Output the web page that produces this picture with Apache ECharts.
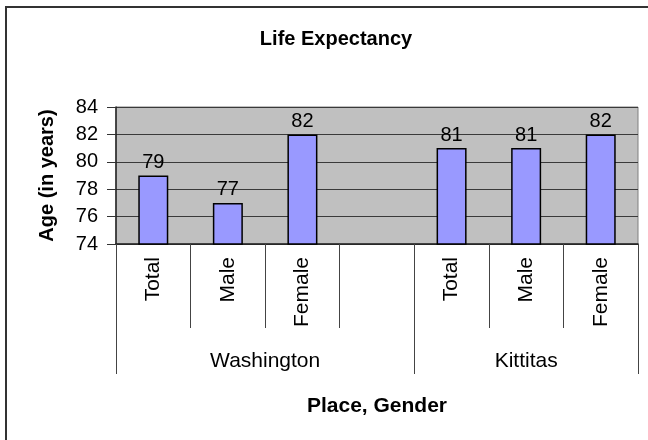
<!DOCTYPE html>
<html>
<head>
<meta charset="utf-8">
<script src="https://cdn.jsdelivr.net/npm/echarts@6/dist/echarts.min.js"></script>
<style>
  html, body { margin: 0; padding: 0; background: #fff; }
  #chart { width: 648px; height: 440px; }
</style>
</head>
<body>
<div id="chart"></div>
<script>
const categories = ['Total', 'Male', 'Female', '', 'Total', 'Male', 'Female']
const ages = [79, 77, 82, null, 81, 81, 82]
const groupNames = ['Washington', 'Kittitas']
const groupSpans = [4, 3]
const yTicks = { min: 74, max: 84, interval: 2 }

// group borders and centres on a 0..7 scale, same width as the category axis
const groupEdges = [0]
const groupCenters = []
groupSpans.forEach((s, i) => {
  groupCenters.push(groupEdges[i] + s / 2)
  groupEdges.push(groupEdges[i] + s)
})

const font = 'Liberation Sans, Arial, sans-serif'
const chart = echarts.init(document.getElementById('chart'))

const option = {
  animation: false,
  backgroundColor: '#fff',
  title: {
    text: 'Life Expectancy',
    left: 331,
    textAlign: 'center',
    top: 24,
    textStyle: { fontFamily: font, fontSize: 20, fontWeight: 'bold', color: '#000' }
  },
  graphic: [{
    type: 'rect',
    shape: { x: 6, y: 7, width: 700, height: 500 },
    style: { fill: 'none', stroke: '#333', lineWidth: 2 },
    silent: true
  }],
  grid: {
    left: 116, right: 10, top: 107, bottom: 196,
    show: true,
    backgroundColor: '#C0C0C0',
    borderColor: '#808080',
    borderWidth: 1
  },
  xAxis: [{
    type: 'category',
    data: categories,
    axisLine: { lineStyle: { color: '#222', width: 1.5 } },
    axisTick: { show: true, length: 84, interval: 0, lineStyle: { color: '#444' } },
    axisLabel: {
      interval: 0, rotate: 90, margin: 13,
      fontFamily: font, fontSize: 21, color: '#000'
    }
  }, {
    type: 'value',
    position: 'bottom',
    min: 0,
    max: groupEdges[groupEdges.length - 1],
    axisLine: { show: false },
    splitLine: { show: false },
    axisTick: { show: true, length: 130, customValues: groupEdges, lineStyle: { color: '#444' } },
    axisLabel: {
      customValues: groupCenters,
      formatter: v => groupNames[groupCenters.indexOf(v)] || '',
      margin: 107,
      fontFamily: font, fontSize: 21, color: '#000'
    },
    name: 'Place, Gender',
    nameLocation: 'middle',
    nameGap: 152,
    nameTextStyle: { fontFamily: font, fontSize: 21, fontWeight: 'bold', color: '#000' }
  }],
  yAxis: {
    type: 'value',
    min: yTicks.min,
    max: yTicks.max,
    interval: yTicks.interval,
    name: 'Age (in years)',
    nameLocation: 'middle',
    nameGap: 59,
    nameTextStyle: { fontFamily: font, fontSize: 20, fontWeight: 'bold', color: '#000' },
    axisLine: { show: true, lineStyle: { color: '#222', width: 1.5 } },
    axisTick: { show: true, length: 9, lineStyle: { color: '#333' } },
    axisLabel: { margin: 18, fontFamily: font, fontSize: 20, color: '#000' },
    splitLine: { lineStyle: { color: '#3a3a3a', width: 1 } }
  },
  series: [{
    type: 'bar',
    data: ages,
    barWidth: 30,
    itemStyle: { color: '#9999FF', borderColor: '#000', borderWidth: 1.5 },
    label: {
      show: true,
      position: 'top',
      distance: 3,
      fontFamily: font, fontSize: 20, color: '#000'
    }
  }]
}

chart.setOption(option)
</script>
</body>
</html>
